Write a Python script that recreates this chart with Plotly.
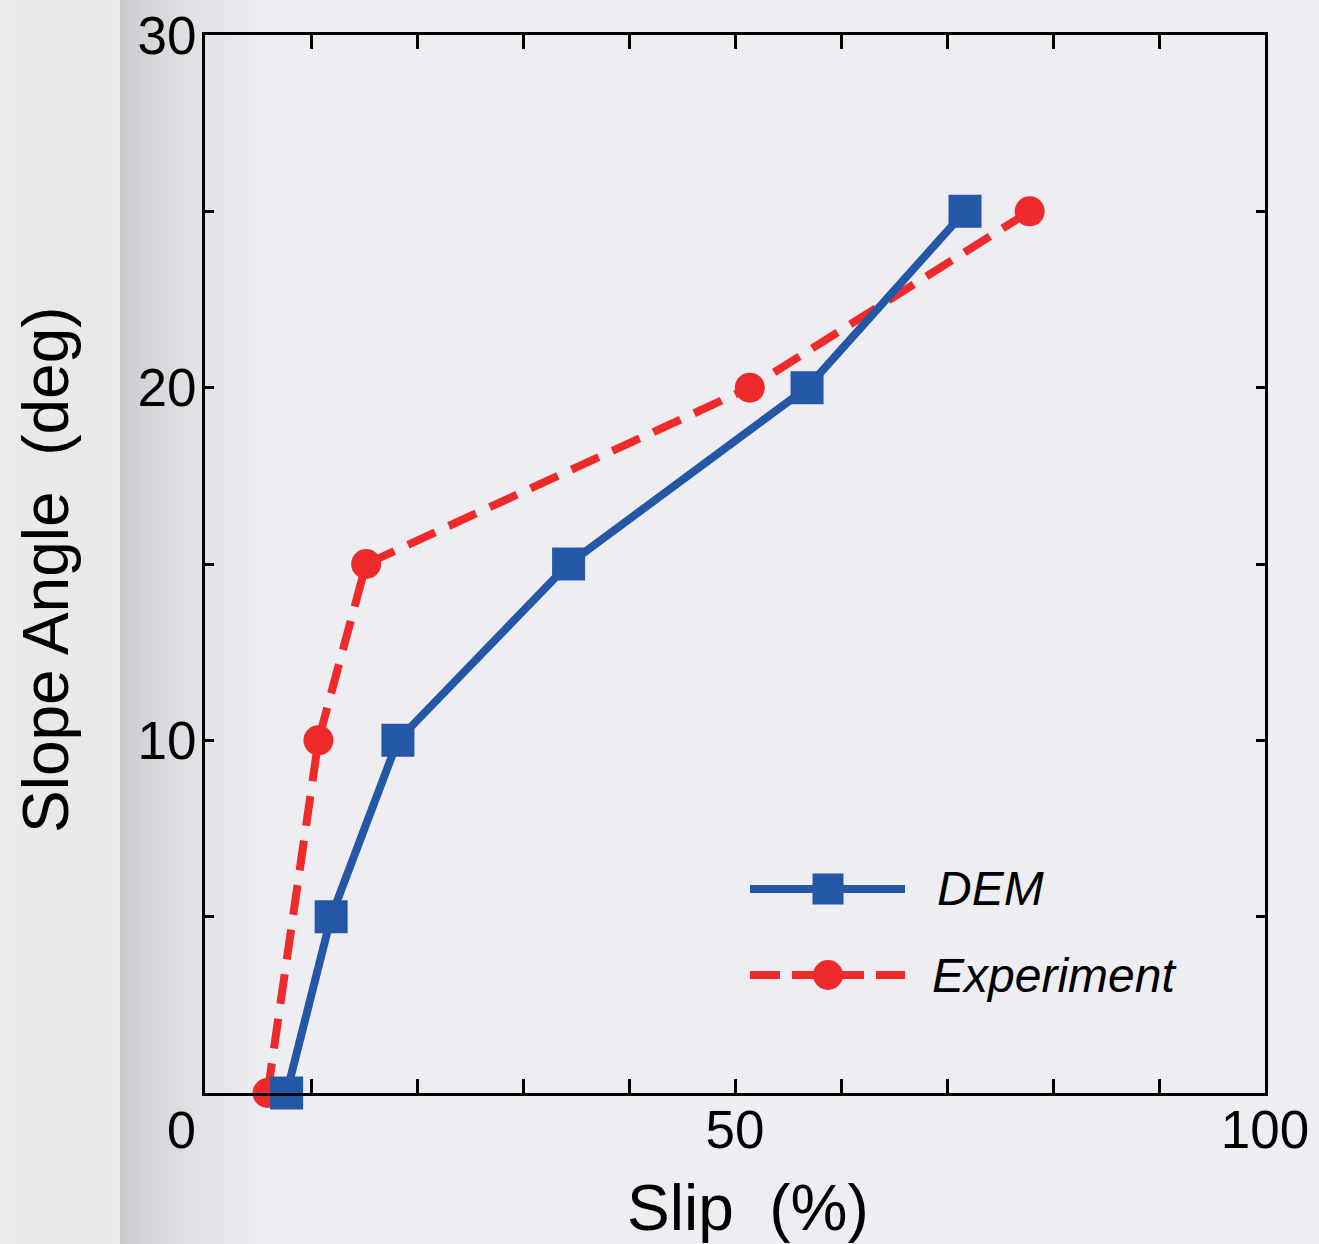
import plotly.graph_objects as go
import math

# Data
dem_slip = [7.7, 11.9, 18.2, 34.3, 56.8, 71.7]
dem_angle = [0, 5, 10, 15, 20, 25]
exp_slip = [5.9, 10.7, 15.2, 51.4, 77.8]
exp_angle = [0, 10, 15, 20, 25]

x_tickvals = [0, 10, 20, 30, 40, 50, 60, 70, 80, 90, 100]
x_ticktext = ["", "", "", "", "", "50", "", "", "", "", "100"]
y_tickvals = [0, 5, 10, 15, 20, 25, 30]
y_ticktext = ["", "", "10", "", "20", "", "30"]

BLUE = "#2557a7"
RED = "#ef2a2a"
BG = "#eeedf2"
FONT = "Liberation Sans, Arial, sans-serif"

W, H = 1319, 1244
L, R, T, B = 205, 54, 35, 151
PW = W - L - R
PH = H - T - B

def px2paper_x(px):
    return (px - L) / PW

def px2paper_y(py):
    return (H - B - py) / PH

fig = go.Figure()

fig.add_trace(go.Scatter(
    x=exp_slip, y=exp_angle, mode="lines+markers", name="Experiment",
    line=dict(color=RED, width=8, dash="30px,15px"),
    marker=dict(symbol="circle", size=30, color=RED),
    cliponaxis=False, showlegend=False))
fig.add_trace(go.Scatter(
    x=dem_slip, y=dem_angle, mode="lines+markers", name="DEM",
    line=dict(color=BLUE, width=8),
    marker=dict(symbol="square", size=33, color=BLUE),
    cliponaxis=False, showlegend=False))

shapes = []
# left page shadow (decorative background)
for i in range(0, 120, 4):
    c = 235 - int(3 * math.sin(i / 120 * math.pi))
    shapes.append(dict(type="rect", xref="paper", yref="paper", layer="below",
                       x0=px2paper_x(i), x1=px2paper_x(i + 4), y0=-0.3, y1=1.2,
                       fillcolor=f"rgb({c},{c},{c+1})", line=dict(width=0)))
for i in range(120, 260, 4):
    t = (i - 120) / 140
    f = t ** 0.6
    r = int(198 + (238 - 198) * f)
    g = int(198 + (237 - 198) * f)
    b = int(203 + (242 - 203) * f)
    shapes.append(dict(type="rect", xref="paper", yref="paper", layer="below",
                       x0=px2paper_x(i), x1=px2paper_x(i + 4), y0=-0.3, y1=1.2,
                       fillcolor=f"rgb({r},{g},{b})", line=dict(width=0)))

# manual legend
leg_x0, leg_x1, leg_xc = px2paper_x(750), px2paper_x(905), px2paper_x(828)
y_dem, y_exp = px2paper_y(889), px2paper_y(975)
shapes.append(dict(type="line", xref="paper", yref="paper", x0=leg_x0, x1=leg_x1,
                   y0=y_dem, y1=y_dem, line=dict(color=BLUE, width=8)))
shapes.append(dict(type="rect", xref="paper", yref="paper", xsizemode="pixel", ysizemode="pixel",
                   xanchor=leg_xc, yanchor=y_dem, x0=-15.5, x1=15.5, y0=-15.5, y1=15.5,
                   fillcolor=BLUE, line=dict(width=0)))
shapes.append(dict(type="line", xref="paper", yref="paper", x0=leg_x0, x1=leg_x1,
                   y0=y_exp, y1=y_exp, line=dict(color=RED, width=8, dash="30px,12px")))
shapes.append(dict(type="circle", xref="paper", yref="paper", xsizemode="pixel", ysizemode="pixel",
                   xanchor=leg_xc, yanchor=y_exp, x0=-15, x1=15, y0=-15, y1=15,
                   fillcolor=RED, line=dict(width=0)))

annotations = [
    dict(text="DEM", xref="paper", yref="paper", x=px2paper_x(935), y=y_dem,
         xanchor="left", yanchor="middle", showarrow=False,
         font=dict(family=FONT, size=48, color="black", style="italic")),
    dict(text="Experiment", xref="paper", yref="paper", x=px2paper_x(930), y=y_exp,
         xanchor="left", yanchor="middle", showarrow=False,
         font=dict(family=FONT, size=48, color="black", style="italic")),
    dict(text="0", xref="paper", yref="paper", x=px2paper_x(181), y=px2paper_y(1130),
         xanchor="center", yanchor="middle", showarrow=False,
         font=dict(family=FONT, size=52, color="black")),
    dict(text="Slip  (%)", xref="paper", yref="paper", x=px2paper_x(748), y=px2paper_y(1208),
         xanchor="center", yanchor="middle", showarrow=False,
         font=dict(family=FONT, size=64, color="black")),
    dict(text="Slope Angle  (deg)", xref="paper", yref="paper", x=px2paper_x(46), y=px2paper_y(570),
         xanchor="center", yanchor="middle", showarrow=False, textangle=-90,
         font=dict(family=FONT, size=64, color="black")),
]

fig.update_layout(
    width=W, height=H,
    margin=dict(l=L, r=R, t=T, b=B, autoexpand=False),
    paper_bgcolor=BG, plot_bgcolor=BG,
    shapes=shapes, annotations=annotations,
    showlegend=False,
    xaxis=dict(range=[0, 100], tickvals=x_tickvals, ticktext=x_ticktext,
               ticks="inside", ticklen=14, tickwidth=2.5, tickcolor="black",
               showline=True, linecolor="black", linewidth=3, mirror="ticks",
               showgrid=False, zeroline=False, automargin=False,
               ticklabelstandoff=-12,
               tickfont=dict(family=FONT, size=53, color="black")),
    yaxis=dict(range=[0, 30], tickvals=y_tickvals, ticktext=y_ticktext,
               ticks="inside", ticklen=9, tickwidth=2.5, tickcolor="black",
               showline=True, linecolor="black", linewidth=3, mirror="ticks",
               showgrid=False, zeroline=False, automargin=False,
               ticklabelstandoff=-5,
               tickfont=dict(family=FONT, size=53, color="black")),
)

fig.write_html("out.html")
